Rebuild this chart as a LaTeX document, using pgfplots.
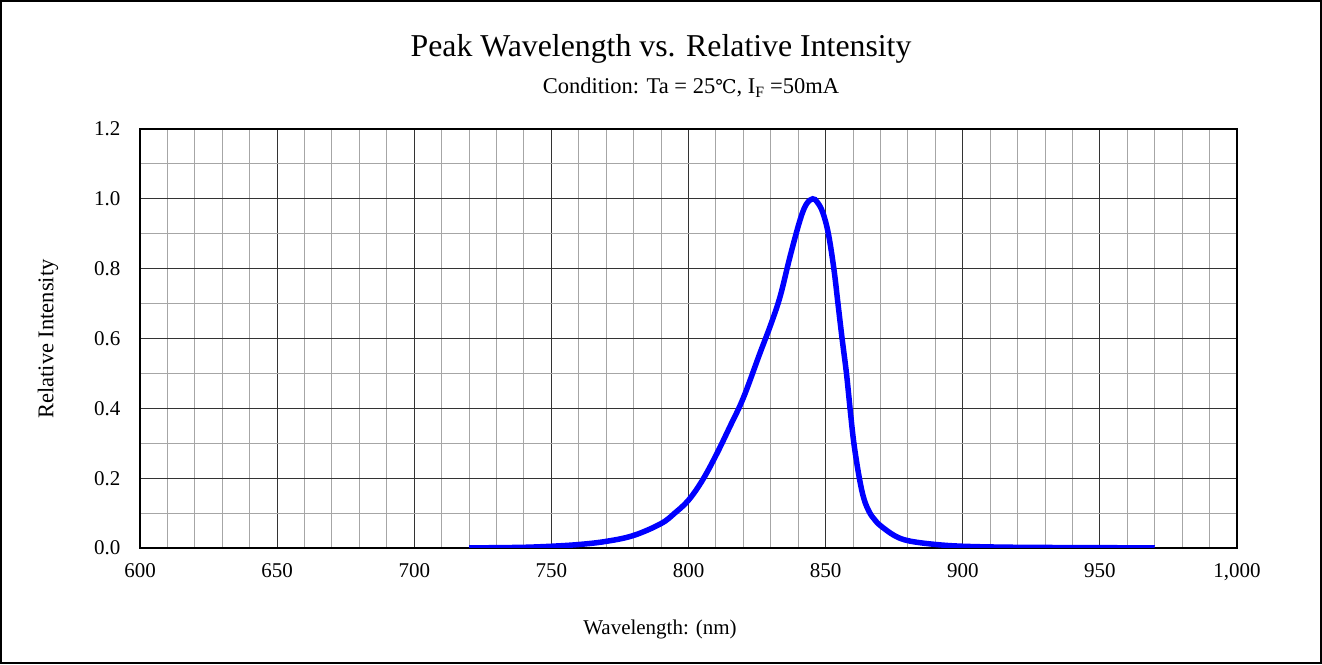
\documentclass[border=0pt]{standalone}
\usepackage{fontspec}
\setmainfont{Liberation Serif}
\newfontfamily\dejavu{DejaVu Serif}
\usepackage{pgfplots}
\pgfplotsset{compat=1.18}
\pgfplotstableread{
x y
720 0
730 0.001
740 0.002
750 0.005
760 0.010
770 0.019
780 0.036
790 0.070
795 0.100
800 0.137
805 0.193
810 0.265
815 0.346
820 0.430
826 0.557
830 0.640
833.4 0.720
837 0.834
840.7 0.940
843 0.985
845.3 1.000
847 0.990
849 0.960
851 0.900
853 0.800
854.5 0.700
856 0.600
857.6 0.500
858.9 0.400
860.3 0.300
862.3 0.200
864 0.140
866 0.102
868 0.080
870 0.064
875 0.036
880 0.021
889 0.011
900 0.005
920 0.002
950 0.001
970 0
}\spectrum
\begin{document}
\begin{tikzpicture}[x=1pt,y=1pt]
\useasboundingbox (0,0) rectangle (1322,664);
\draw[line width=2pt] (1,1) rectangle (1321,663);
\begin{axis}[
  at={(140pt,116pt)}, anchor=south west,
  scale only axis, width=1097pt, height=419pt,
  xmin=600, xmax=1000, ymin=0, ymax=1.2,
  xtick={600,650,700,750,800,850,900,950,1000},
  minor x tick num=4,
  ytick={0,0.2,0.4,0.6,0.8,1.0,1.2},
  minor y tick num=1,
  grid=both,
  major grid style={black!80, line width=1pt},
  minor grid style={black!35, line width=1pt},
  axis line style={black, line width=1.2pt},
  major tick length=0pt, minor tick length=0pt,
  tick label style={font=\fontsize{21}{25}\selectfont},
  /pgf/number format/assume math mode=true,
  /pgf/number format/1000 sep={,},
  xticklabel style={yshift=-12pt},
  yticklabel style={xshift=-16pt, /pgf/number format/.cd, fixed, fixed zerofill, precision=1},
]
\addplot[blue, line width=5.5pt, smooth, tension=0.6] table[x=x,y=y] {\spectrum};
\end{axis}
\node[anchor=base, font=\fontsize{31.8}{38}\selectfont] at (661,607) {Peak Wavelength vs. Relative Intensity};
\node[anchor=base, font=\fontsize{22.5}{27}\selectfont] at (691,570) {Condition: Ta = 25{\dejavu\fontsize{19}{22}\selectfont ℃}, I\textsubscript{F} =50mA};
\node[font=\fontsize{21}{25}\selectfont] at (660,35) {Wavelength: (nm)};
\node[rotate=90, font=\fontsize{22.5}{27}\selectfont] at (48,325) {Relative Intensity};
\end{tikzpicture}
\end{document}
